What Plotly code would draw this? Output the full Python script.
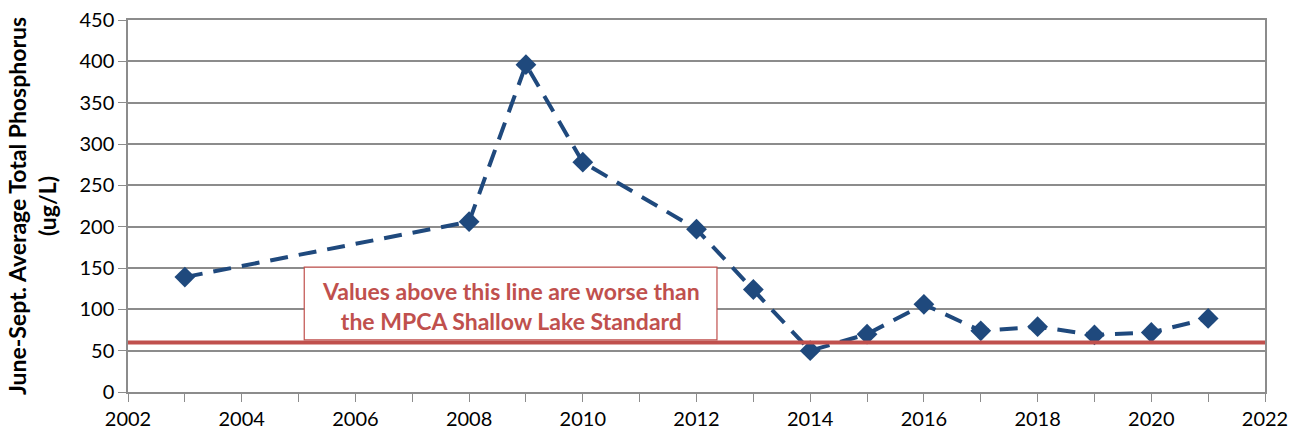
import plotly.graph_objects as go

years = [2003, 2008, 2009, 2010, 2012, 2013, 2014, 2015, 2016, 2017, 2018, 2019, 2020, 2021]
tp_values = [139, 206, 396, 278, 197, 124, 50, 70, 106, 74, 79, 69, 72, 89]
standard_value = 60
y_title = "June-Sept. Average Total Phosphorus<br>(ug/L)"
note_text = "Values above this line are worse than<br>the MPCA Shallow Lake Standard"

red = "#C0504D"
blue = "#1F497D"
grid = "#8C8C8C"
font_family = "Lato, 'Open Sans', sans-serif"

fig = go.Figure()
fig.add_trace(go.Scatter(
    x=years, y=tp_values, mode="lines+markers",
    line=dict(color=blue, width=4, dash="18px,11px"),
    marker=dict(symbol="diamond", size=16, color=blue),
    showlegend=False,
))

fig.add_shape(type="line", x0=2002, x1=2022, y0=standard_value, y1=standard_value,
              xref="x", yref="y", line=dict(color=red, width=4), layer="above")
fig.add_shape(type="rect", x0=2005.1, x1=2012.36, y0=standard_value + 3, y1=151,
              xref="x", yref="y", line=dict(color=red, width=1.2),
              fillcolor="white", layer="above")
fig.add_annotation(x=(2005.1 + 2012.36) / 2, y=(standard_value + 3 + 151) / 2 - 3,
                   xref="x", yref="y", text="<b>" + note_text + "</b>",
                   showarrow=False, font=dict(color=red, size=23, family=font_family),
                   align="center")

fig.update_layout(
    width=1302, height=436,
    margin=dict(l=128, r=37, t=20, b=44, autoexpand=False),
    plot_bgcolor="white", paper_bgcolor="white",
    font=dict(family=font_family, color="black", size=20),
)
fig.update_xaxes(
    range=[2002, 2022], tick0=2002, dtick=2, ticks="outside", ticklen=8,
    tickcolor=grid, showgrid=False, showline=True, linecolor=grid, linewidth=1.5,
    mirror=True, zeroline=False, automargin=False,
    minor=dict(dtick=1, ticks="outside", ticklen=8, tickcolor=grid, showgrid=False),
    tickfont=dict(size=20),
)
fig.update_yaxes(
    range=[0, 450], dtick=50, ticks="outside", ticklen=8, tickcolor=grid,
    showgrid=True, gridcolor=grid, gridwidth=1.5, showline=True, linecolor=grid,
    linewidth=1.5, mirror=True, zeroline=False, automargin=False,
    tickfont=dict(size=20),
    title=dict(text="<b>" + y_title + "</b>", font=dict(size=23), standoff=16),
)

fig.write_html("out.html", config={"displayModeBar": False},
               post_script="document.body.style.margin='0';")
